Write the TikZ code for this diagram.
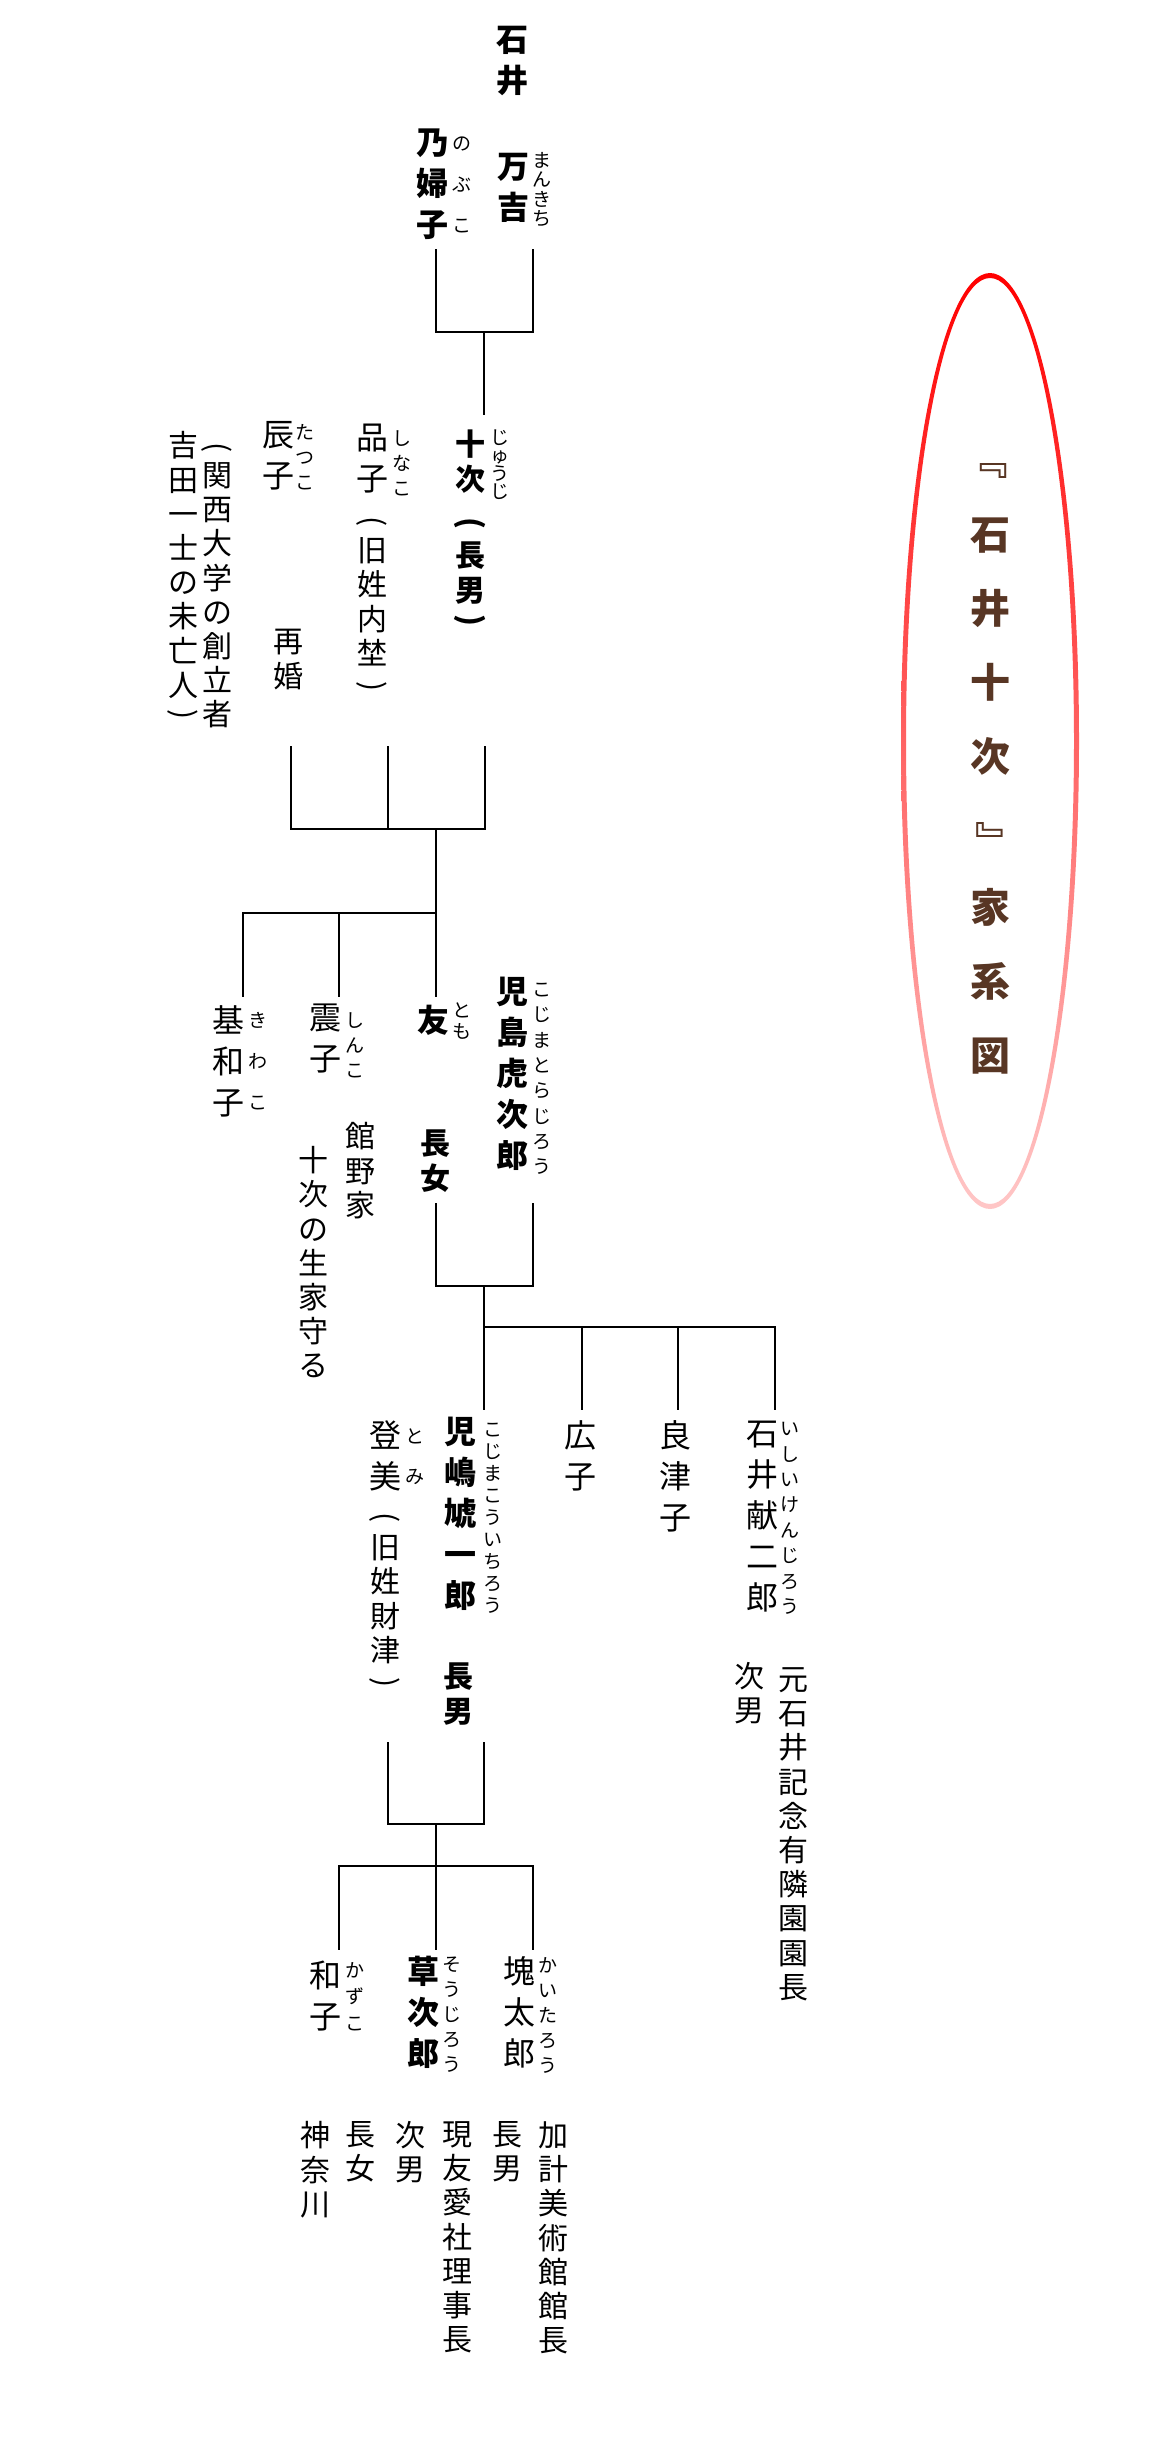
\documentclass[tikz,border=0pt]{standalone}
\usepackage{fontspec}
\usepackage{tikz}
\usepackage{xcolor}
\newfontfamily\jp{Noto Sans CJK JP}
\definecolor{titlebrown}{RGB}{88,54,36}
\tikzset{
	vcol/.style={inner sep=0pt, anchor=north, align=center,
		execute at begin node={\rule{0pt}{0.9em}}},
	person/.style={vcol, yshift=16.6pt, font=\jp\fontsize{32}{41}\selectfont},
	boldperson/.style={vcol, yshift=16.6pt, font=\jp\bfseries\fontsize{32}{41}\selectfont},
	note/.style={vcol, yshift=15.6pt, font=\jp\fontsize{30}{34.2}\selectfont},
	boldnote/.style={vcol, yshift=15.6pt, font=\jp\bfseries\fontsize{30}{35}\selectfont},
	ruby/.style={vcol, yshift=9.9pt, font=\jp\fontsize{19}{#1}\selectfont},
	% brackets are turned for the vertical columns
	bracket/.style={inner sep=0pt, rotate=-90, font=\jp\fontsize{30}{30}\selectfont},
	boldbracket/.style={bracket, font=\jp\bfseries\fontsize{30}{30}\selectfont},
	titletext/.style={vcol, yshift=20.8pt, text=titlebrown,
		font=\jp\bfseries\fontsize{40}{74.1}\selectfont},
	titlebracket/.style={inner sep=0pt, rotate=-90, text=titlebrown,
		font=\jp\bfseries\fontsize{40}{40}\selectfont},
	tie/.style={line width=2.6pt},
}
\begin{document}
\begin{tikzpicture}[x=1pt, y=-1pt]
	\fill[white] (0,0) rectangle (1170,2446);
	\useasboundingbox (0,0) rectangle (1170,2446);
	% title in the red ellipse
	\shade[top color=red, middle color=red!72, bottom color=red!22, even odd rule]
		(990,741) ellipse [x radius=89pt, y radius=468pt]
		(990,741) ellipse [x radius=84pt, y radius=463pt];
	\node[titlebracket](titleL) at (990,459){『};
	\node[titletext](title) at (990,538){石\\井\\十\\次};
	\node[titlebracket](titleR) at (990,841){』};
	\node[titletext](titleB) at (990,909){家\\系\\図};
	% first generation
	\node[boldperson](ishii) at (512,43){石\\井};
	\node[boldperson](nobuko) at (432,145){乃\\婦\\子};
	\node[ruby=41](nobukoR) at (462,147){の\\ぶ\\こ};
	\node[boldperson](mankichi) at (513,170){万\\吉};
	\node[ruby=19.5](mankichiR) at (542,162){ま\\ん\\き\\ち};
	% second generation
	\node[boldnote](jyuji) at (470,445){十\\次};
	\node[boldbracket](jyujiL) at (470,523){(};
	\node[boldnote](jyujiN) at (470,557){長\\男};
	\node[boldbracket](jyujiR) at (470,620){)};
	\node[ruby=18](jyujiK) at (500,440){じ\\ゅ\\う\\じ};
	\node[person](shinako) at (372,440){品\\子};
	\node[bracket](shinakoL) at (372,522){(};
	\node[note](shinakoN) at (372,553){旧\\姓\\内\\埜};
	\node[bracket](shinakoR) at (372,687){)};
	\node[ruby=25](shinakoK) at (402,440){し\\な\\こ};
	\node[person](tatsuko) at (278,438){辰\\子};
	\node[ruby=25](tatsukoK) at (305,434){た\\つ\\こ};
	\node[note](saikon) at (288,645){再\\婚};
	\node[bracket](kansaiL) at (217,448){(};
	\node[note](kansaiA) at (217,478){関\\西\\大\\学\\の\\創\\立\\者};
	\node[note](kansaiB) at (183,447){吉\\田\\一\\士\\の\\未\\亡\\人};
	\node[bracket](kansaiR) at (183,715){)};
	% third generation
	\node[person](kiwako) at (228,1022){基\\和\\子};
	\node[ruby=41](kiwakoK) at (258,1022){き\\わ\\こ};
	\node[person](shinko) at (325,1020){震\\子};
	\node[ruby=25](shinkoK) at (355,1022){し\\ん\\こ};
	\node[boldperson](tomo) at (433,1020){友};
	\node[ruby=21](tomoK) at (462,1012){と\\も};
	\node[boldnote](chojo) at (435,1145){長\\女};
	\node[boldperson](torajiro) at (512,993){児\\島\\虎\\次\\郎};
	\node[ruby=25.3](torajiroK) at (542,993){こ\\じ\\ま\\と\\ら\\じ\\ろ\\う};
	\node[note](tateno) at (360,1138){館\\野\\家};
	\node[note](seika) at (313,1162){十\\次\\の\\生\\家\\守\\る};
	% fourth generation
	\node[person](tomi) at (385,1437){登\\美};
	\node[bracket](tomiL) at (385,1518){(};
	\node[note](tomiN) at (385,1550){旧\\姓\\財\\津};
	\node[bracket](tomiR) at (385,1683){)};
	\node[ruby=40](tomiK) at (415,1438){と\\み};
	\node[boldperson](koichiro) at (460,1433){児\\嶋\\虓\\一\\郎};
	\node[ruby=22](koichiroK) at (493,1433){こ\\じ\\ま\\こ\\う\\い\\ち\\ろ\\う};
	\node[boldnote](chonan) at (458,1678){長\\男};
	\node[person](hiroko) at (580,1437){広\\子};
	\node[person](ritsuko) at (675,1437){良\\津\\子};
	\node[person](kenjiro) at (762,1437){石\\井\\献\\二\\郎};
	\node[ruby=25.4](kenjiroK) at (790,1432){い\\し\\い\\け\\ん\\じ\\ろ\\う};
	\node[note](jinan) at (749,1678){次\\男};
	\node[note](yurin) at (793,1683){元\\石\\井\\記\\念\\有\\隣\\園\\園\\長};
	% fifth generation
	\node[person](kazuko) at (325,1977){和\\子};
	\node[ruby=26.5](kazukoK) at (355,1972){か\\ず\\こ};
	\node[boldperson](sojiro) at (423,1973){草\\次\\郎};
	\node[ruby=25](sojiroK) at (452,1967){そ\\う\\じ\\ろ\\う};
	\node[person](kaitaro) at (519,1973){塊\\太\\郎};
	\node[ruby=25](kaitaroK) at (548,1967){か\\い\\た\\ろ\\う};
	\node[note](kanagawa) at (315,2137){神\\奈\\川};
	\node[note](chojo2) at (360,2137){長\\女};
	\node[note](jinan2) at (410,2137){次\\男};
	\node[note](yuaisha) at (457,2137){現\\友\\愛\\社\\理\\事\\長};
	\node[note](chonan2) at (507,2137){長\\男};
	\node[note](kake) at (553,2137){加\\計\\美\\術\\館\\館\\長};
	% line ends
	\coordinate(nobukoB) at (436,249);\coordinate(mankichiB) at (533,249);
	\coordinate(m1) at (484,332);\coordinate(jyujiT) at (484,415);
	\coordinate(tatsukoB) at (291,746);\coordinate(shinakoB) at (388,746);
	\coordinate(jyujiB) at (485,746);\coordinate(m2) at (436,829);
	\coordinate(k2) at (436,913);
	\coordinate(kiwakoT) at (243,997);\coordinate(shinkoT) at (339,997);
	\coordinate(tomoT) at (436,997);
	\coordinate(tomoB) at (436,1203);\coordinate(torajiroB) at (533,1203);
	\coordinate(m3) at (484,1286);\coordinate(k3) at (484,1327);
	\coordinate(koichiroT) at (484,1410);\coordinate(hirokoT) at (582,1410);
	\coordinate(ritsukoT) at (678,1410);\coordinate(kenjiroT) at (775,1410);
	\coordinate(tomiB) at (388,1742);\coordinate(koichiroB) at (484,1742);
	\coordinate(m4) at (436,1824);\coordinate(k4) at (436,1866);
	\coordinate(kazukoT) at (339,1950);\coordinate(sojiroT) at (436,1950);
	\coordinate(kaitaroT) at (533,1950);
	% connectors
	\draw[tie](nobukoB)|-(m1)-|(mankichiB);\draw[tie](m1)--(jyujiT);
	\draw[tie](tatsukoB)|-(m2)-|(jyujiB);\draw[tie](shinakoB)--(shinakoB|-m2);
	\draw[tie](m2)--(k2);\draw[tie](k2)-|(kiwakoT);
	\draw[tie](k2)-|(shinkoT);\draw[tie](k2)--(tomoT);
	\draw[tie](tomoB)|-(m3)-|(torajiroB);\draw[tie](m3)--(koichiroT);
	\draw[tie](k3)-|(hirokoT);\draw[tie](k3)-|(ritsukoT);
	\draw[tie](k3)-|(kenjiroT);
	\draw[tie](tomiB)|-(m4)-|(koichiroB);\draw[tie](m4)--(k4);
	\draw[tie](k4)-|(kazukoT);\draw[tie](k4)--(sojiroT);
	\draw[tie](k4)-|(kaitaroT);
\end{tikzpicture}
\end{document}
